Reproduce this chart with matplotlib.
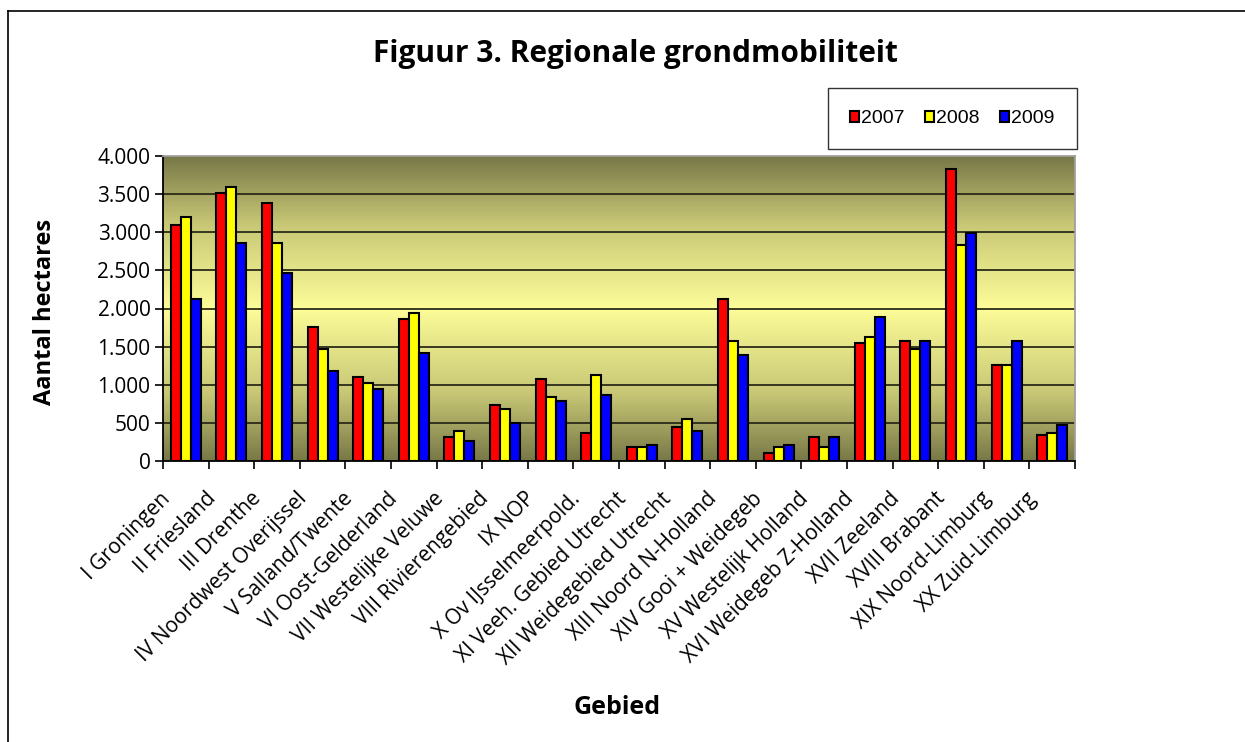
import numpy as np
import matplotlib
matplotlib.use("Agg")
import matplotlib.pyplot as plt
import matplotlib.transforms as mtransforms
from matplotlib.colors import LinearSegmentedColormap
from matplotlib.ticker import FuncFormatter, FixedLocator
from matplotlib.lines import Line2D

plt.rcParams['font.family'] = ['Open Sans', 'DejaVu Sans']

gebieden = ["I Groningen", "II Friesland", "III Drenthe", "IV Noordwest Overijssel",
            "V Salland/Twente", "VI Oost-Gelderland", "VII Westelijke Veluwe",
            "VIII Rivierengebied", "IX NOP", "X Ov IJsselmeerpold.",
            "XI Veeh. Gebied Utrecht", "XII Weidegebied Utrecht", "XIII Noord N-Holland",
            "XIV Gooi + Weidegeb", "XV Westelijk Holland", "XVI Weidegeb Z-Holland",
            "XVII Zeeland", "XVIII Brabant", "XIX Noord-Limburg", "XX Zuid-Limburg"]
jaren = ["2007", "2008", "2009"]
ha_2007 = [3100, 3520, 3390, 1760, 1100, 1865, 315, 730, 1075, 365,
           180, 445, 2125, 100, 315, 1550, 1575, 3830, 1260, 340]
ha_2008 = [3200, 3600, 2860, 1470, 1020, 1945, 390, 680, 840, 1125,
           180, 550, 1575, 180, 180, 1625, 1470, 2835, 1260, 365]
ha_2009 = [2125, 2865, 2470, 1185, 945, 1420, 260, 495, 785, 865,
           205, 390, 1390, 205, 315, 1890, 1575, 2990, 1575, 470]
kleuren = ["#ff0000", "#ffff00", "#0000ff"]

W, H = 1245, 742
fig = plt.figure(figsize=(W / 100, H / 100), dpi=100)
ax = fig.add_axes([163 / W, 1 - 461 / H, 912 / W, 305 / H])

# gradient background
cmap = LinearSegmentedColormap.from_list("bg", [
    (0.0, (0.47, 0.47, 0.28)),
    (0.22, (0.78, 0.78, 0.46)),
    (0.5, (0.99, 0.99, 0.60)),
    (0.78, (0.78, 0.78, 0.46)),
    (1.0, (0.47, 0.47, 0.28))])
n = len(gebieden)
ax.imshow(np.linspace(0, 1, 256).reshape(-1, 1), aspect='auto', cmap=cmap,
          extent=[-0.5, n - 0.5, 0, 4000], origin='upper', zorder=0)

for y in range(500, 4000, 500):
    ax.axhline(y, color="#2b2b1a", lw=1.3, zorder=1)

x = np.arange(n)
w = 0.22
for i, (vals, c) in enumerate(zip([ha_2007, ha_2008, ha_2009], kleuren)):
    ax.bar(x + (i - 1) * w, vals, w, color=c, edgecolor="black", lw=1.5,
           label=jaren[i], zorder=3)

ax.set_xlim(-0.5, n - 0.5)
ax.set_ylim(0, 4000)
ax.set_yticks(range(0, 4001, 500))
ax.yaxis.set_major_formatter(FuncFormatter(lambda v, p: f"{int(v):,}".replace(",", ".")))
ax.tick_params(axis='y', labelsize=15, length=6, width=1.2, direction='out', pad=3)

ax.set_xticks(x)
ax.set_xticklabels(gebieden, rotation=45, ha='right', va='center', rotation_mode='anchor',
                   fontsize=15)
ax.tick_params(axis='x', which='major', length=0, pad=12)
shift = mtransforms.ScaledTranslation(-0.19, -0.18, fig.dpi_scale_trans)
for lab in ax.get_xticklabels():
    lab.set_transform(lab.get_transform() + shift)
ax.xaxis.set_minor_locator(FixedLocator(np.arange(-0.5, n, 1)))
ax.tick_params(axis='x', which='minor', length=6, width=1.2, direction='out')

for s in ['left', 'bottom']:
    ax.spines[s].set_color("black")
    ax.spines[s].set_linewidth(1.3)
for s in ['top', 'right']:
    ax.spines[s].set_color("#a0a0a0")
    ax.spines[s].set_linewidth(1.3)

fig.text(45 / W, 1 - 312 / H, "Aantal hectares", fontsize=17, fontweight='bold',
         rotation=90, ha='center', va='center')
fig.text(617 / W, 1 - 707 / H, "Gebied", fontsize=18, fontweight='bold',
         ha='center', va='center')
fig.text(635 / W, 1 - 54 / H, "Figuur 3. Regionale grondmobiliteit", fontsize=21.5,
         fontweight='bold', ha='center', va='center')

leg = fig.legend(loc='center', bbox_to_anchor=(828 / W, 1 - 151 / H, 249 / W, 65 / H),
                 mode='expand', ncol=3,
                 prop={'family': 'Liberation Sans', 'size': 14},
                 frameon=True, fancybox=False, edgecolor='black',
                 handlelength=0.45, handleheight=0.5, handletextpad=0.12,
                 borderpad=1.15, borderaxespad=0)
leg.get_frame().set_linewidth(1.0)

# outer chart border (left and top visible)
fig.add_artist(Line2D([8 / W, 8 / W], [0, 1 - 11 / H], transform=fig.transFigure,
                      color="black", lw=1.2))
fig.add_artist(Line2D([8 / W, 1], [1 - 11 / H, 1 - 11 / H], transform=fig.transFigure,
                      color="black", lw=1.2))

fig.savefig("out.png", dpi=100)
